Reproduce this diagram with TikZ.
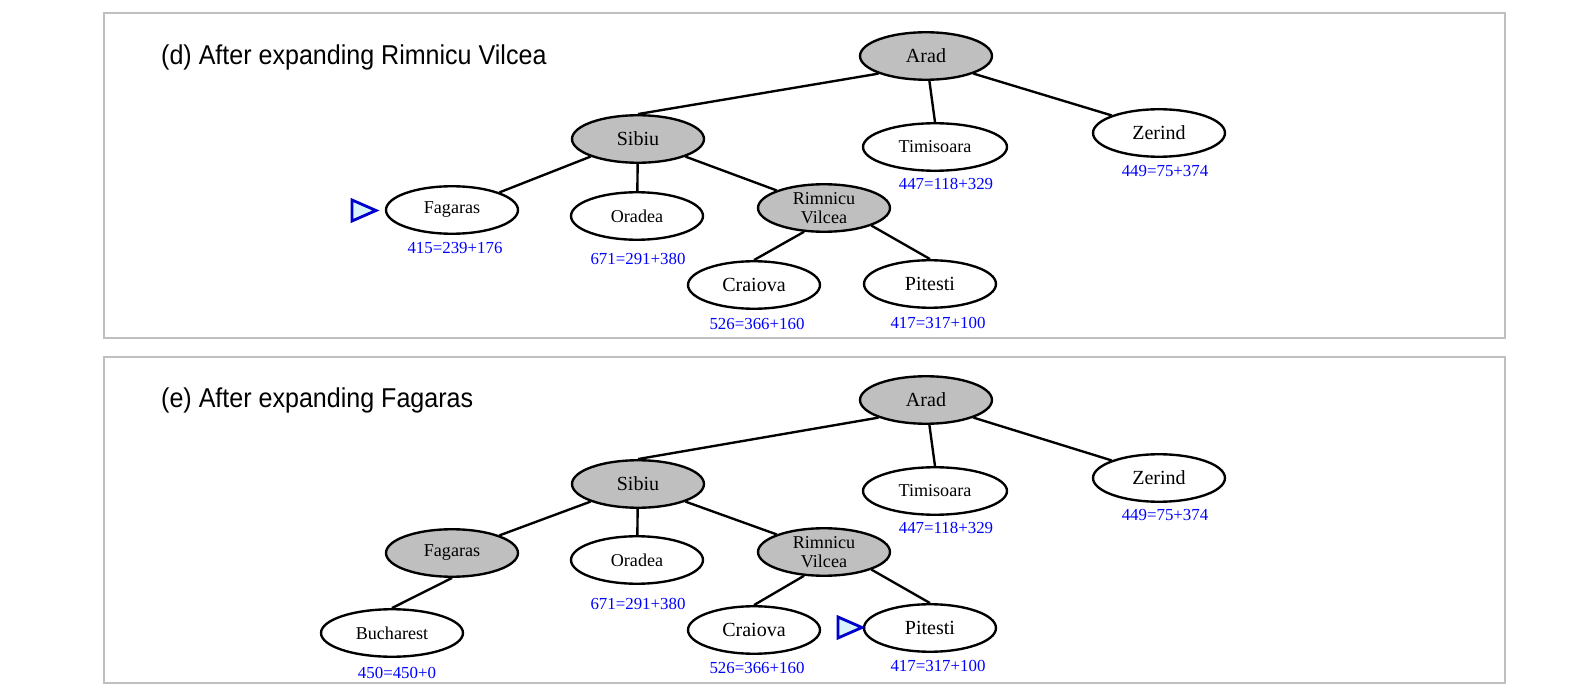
\documentclass[tikz,border=0pt]{standalone}
\usepackage{fontspec}
\setmainfont{Liberation Serif}
\setsansfont{Liberation Sans}
\usetikzlibrary{shapes.geometric}

\begin{document}
\begin{tikzpicture}[x=0.02cm,y=-0.02cm,
    city/.style={draw,ellipse,line width=1.35pt,minimum width=2.64cm,minimum height=0.95cm,inner sep=0pt,align=center,font=\fontsize{11.4}{12}\selectfont},
    small/.style={font=\fontsize{10.3}{10.8}\selectfont},
    done/.style={fill=black!25},
    link/.style={line width=1.35pt},
    cost/.style={blue,font=\fontsize{9.6}{10}\selectfont},
    caption/.style={anchor=west,font=\sffamily\fontsize{15.5}{17}\selectfont},
    marker/.style={draw=blue!80!black,fill=cyan!15,line width=1.6pt,line join=miter},
    frame/.style={draw=black!25,line width=0.6pt}]
    \useasboundingbox (0,0) rectangle (1573,699);

    % (d)
    \draw[frame] (104,13) rectangle (1505,338);
    \node[caption] (dtitle) at (155,57) {\scalebox{0.92}[1]{(d) After expanding Rimnicu Vilcea}};
    \node[city,done] (dArad) at (926,56) {Arad};
    \node[city,done] (dSibiu) at (638,139) {Sibiu};
    \node[city,small,minimum width=2.88cm] (dTimisoara) at (935,147) {Timisoara};
    \node[city] (dZerind) at (1159,133) {Zerind};
    \node[city,small] (dFagaras) at (452,210) {Fagaras};
    \node[city,small] (dOradea) at (637,216) {Oradea};
    \node[city,small,done] (dRimnicu) at (824,208) {Rimnicu\\Vilcea};
    \node[city] (dCraiova) at (754,285) {Craiova};
    \node[city] (dPitesti) at (930,284) {Pitesti};
    \draw[link] (dArad.south west) -- (dSibiu.north);
    \draw[link] (dArad) -- (dTimisoara.north);
    \draw[link] (dArad.south east) -- (dZerind.north west);
    \draw[link] (dSibiu.south west) -- (dFagaras.north east);
    \draw[link] (dSibiu) -- (dOradea);
    \draw[link] (dSibiu.south east) -- (dRimnicu.north west);
    \draw[link] (dRimnicu.230) -- (dCraiova.north);
    \draw[link] (dRimnicu.south east) -- (dPitesti.north);
    \node[cost] (dcFagaras) at (455,248) {415=239+176};
    \node[cost] (dcOradea) at (638,259) {671=291+380};
    \node[cost] (dcTimisoara) at (946,184) {447=118+329};
    \node[cost] (dcZerind) at (1165,171) {449=75+374};
    \node[cost] (dcCraiova) at (757,324) {526=366+160};
    \node[cost] (dcPitesti) at (938,323) {417=317+100};
    \draw[marker] (352,200) -- (352,221) -- (376,210.5) -- cycle;

    % (e)
    \draw[frame] (104,357) rectangle (1505,683);
    \node[caption] (etitle) at (155,400) {\scalebox{0.92}[1]{(e) After expanding Fagaras}};
    \node[city,done] (eArad) at (926,400) {Arad};
    \node[city,done] (eSibiu) at (638,484) {Sibiu};
    \node[city,small,minimum width=2.88cm] (eTimisoara) at (935,491) {Timisoara};
    \node[city] (eZerind) at (1159,478) {Zerind};
    \node[city,small,done] (eFagaras) at (452,553) {Fagaras};
    \node[city,small] (eOradea) at (637,560) {Oradea};
    \node[city,small,done] (eRimnicu) at (824,552) {Rimnicu\\Vilcea};
    \node[city,small,minimum width=2.84cm] (eBucharest) at (392,633) {Bucharest};
    \node[city] (eCraiova) at (754,630) {Craiova};
    \node[city] (ePitesti) at (930,628) {Pitesti};
    \draw[link] (eArad.south west) -- (eSibiu.north);
    \draw[link] (eArad) -- (eTimisoara.north);
    \draw[link] (eArad.south east) -- (eZerind.north west);
    \draw[link] (eSibiu.south west) -- (eFagaras.north east);
    \draw[link] (eSibiu) -- (eOradea);
    \draw[link] (eSibiu.south east) -- (eRimnicu.north west);
    \draw[link] (eFagaras.south) -- (eBucharest.north);
    \draw[link] (eRimnicu.230) -- (eCraiova.north);
    \draw[link] (eRimnicu.south east) -- (ePitesti.north);
    \node[cost] (ecBucharest) at (397,673) {450=450+0};
    \node[cost] (ecOradea) at (638,604) {671=291+380};
    \node[cost] (ecTimisoara) at (946,528) {447=118+329};
    \node[cost] (ecZerind) at (1165,515) {449=75+374};
    \node[cost] (ecCraiova) at (757,668) {526=366+160};
    \node[cost] (ecPitesti) at (938,666) {417=317+100};
    \draw[marker] (838,617) -- (838,638) -- (862,627.5) -- cycle;
\end{tikzpicture}
\end{document}
